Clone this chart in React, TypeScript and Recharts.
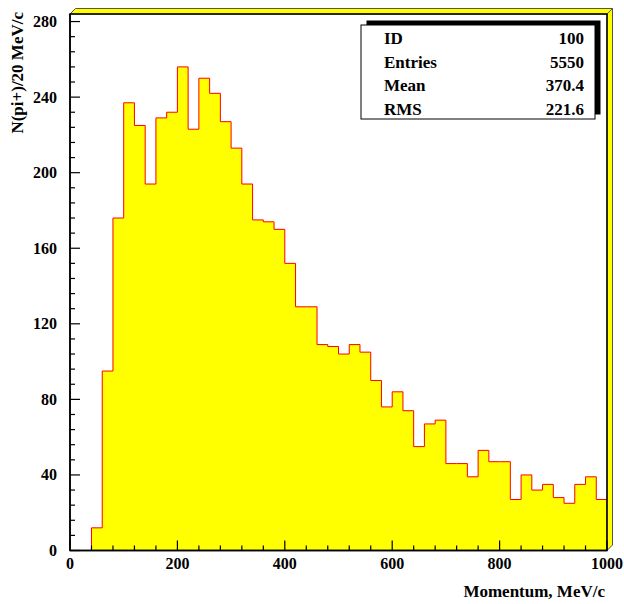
import React from 'react';
import { AreaChart, Area, XAxis, YAxis, ReferenceArea } from 'recharts';

// ---- Data ----
const BIN_WIDTH = 20;
const binLowEdges = [
  0, 20, 40, 60, 80, 100, 120, 140, 160, 180,
  200, 220, 240, 260, 280, 300, 320, 340, 360, 380,
  400, 420, 440, 460, 480, 500, 520, 540, 560, 580,
  600, 620, 640, 660, 680, 700, 720, 740, 760, 780,
  800, 820, 840, 860, 880, 900, 920, 940, 960, 980,
];
const counts = [
  0, 0, 12, 95, 176, 237, 225, 194, 229, 232,
  256, 223, 250, 242, 227, 213, 194, 175, 174, 170,
  152, 129, 129, 109, 108, 104, 109, 105, 90, 76,
  84, 74, 55, 67, 69, 46, 46, 39, 53, 47,
  47, 27, 40, 32, 35, 28, 25, 35, 39, 27,
];
const xMajorLabels = [0, 200, 400, 600, 800, 1000];
const yMajorLabels = [0, 40, 80, 120, 160, 200, 240, 280];
const statLabels = ['ID', 'Entries', 'Mean', 'RMS'];
const statValues = ['100', '5550', '370.4', '221.6'];
const xTitle = 'Momentum, MeV/c';
const yTitle = 'N(pi+)/20 MeV/c';

const X_MAX = 1000;
const Y_MAX = 284;
const xTicks: number[] = [];
for (let v = 0; v <= X_MAX; v += 40) xTicks.push(v);
const yTicks: number[] = [];
for (let v = 0; v <= 280; v += 8) yTicks.push(v);

// step outline data built from bins
const first = counts.findIndex((c) => c > 0);
const last = counts.length - 1;
const stepData: { x: number; y: number }[] = [{ x: binLowEdges[first], y: 0 }];
for (let i = first; i <= last; i++) stepData.push({ x: binLowEdges[i], y: counts[i] });
stepData.push({ x: binLowEdges[last] + BIN_WIDTH, y: counts[last] });
stepData.push({ x: binLowEdges[last] + BIN_WIDTH, y: 0 });

const FONT = '"Liberation Serif", "Times New Roman", serif';

const XTickLabel = (props: any) => {
  const { x, y, payload } = props;
  const v = payload.value;
  if (!xMajorLabels.includes(v)) return <g />;
  return (
    <text x={x} y={y + 18} textAnchor="middle" fontFamily={FONT} fontWeight="bold" fontSize={16} fill="#000">
      {v}
    </text>
  );
};

const YTickLabel = (props: any) => {
  const { x, y, payload } = props;
  const v = payload.value;
  if (!yMajorLabels.includes(v)) return <g />;
  return (
    <text x={x - 13} y={y + 5.5} textAnchor="end" fontFamily={FONT} fontWeight="bold" fontSize={16} fill="#000">
      {v}
    </text>
  );
};

// Frame, tick marks, stats box and titles drawn around the plot area supplied by ReferenceArea
const Frame = (props: any) => {
  const x = Number(props.x);
  const y = Number(props.y);
  const width = Number(props.width);
  const height = Number(props.height);
  const d = 5.5;
  const r = x + width;
  const b = y + height;
  const bx = r - 246;
  const by = y + 11;
  const bw = 234;
  const bh = 94;
  const px = (v: number) => x + (width * v) / X_MAX;
  const py = (v: number) => b - (height * v) / Y_MAX;
  return (
    <g>
      <polygon
        points={`${x},${y} ${x + d},${y - d} ${r + d},${y - d} ${r},${y}`}
        fill="#ffff00"
        stroke="#555"
        strokeWidth={1}
      />
      <polygon
        points={`${r},${y} ${r + d},${y - d} ${r + d},${b - d} ${r},${b}`}
        fill="#ffff00"
        stroke="#555"
        strokeWidth={1}
      />
      {xTicks.map((v) => (
        <line
          key={`xt${v}`}
          x1={px(v)}
          x2={px(v)}
          y1={b}
          y2={b - (xMajorLabels.includes(v) ? 10 : 5)}
          stroke="#000"
          strokeWidth={1.2}
        />
      ))}
      {yTicks.map((v) => (
        <line
          key={`yt${v}`}
          x1={x}
          x2={x + (yMajorLabels.includes(v) ? 10 : 5)}
          y1={py(v)}
          y2={py(v)}
          stroke="#000"
          strokeWidth={1.2}
        />
      ))}
      <rect x={x} y={y} width={width} height={height} fill="none" stroke="#000" strokeWidth={1.5} />
      {/* stats box */}
      <rect x={bx + 5.5} y={by - 4.5} width={bw} height={bh} fill="#000" />
      <rect x={bx} y={by} width={bw} height={bh} fill="#fff" stroke="#000" strokeWidth={1} />
      {statLabels.map((s, i) => (
        <text key={s} x={bx + 23} y={by + 19 + i * 23.5} fontFamily={FONT} fontWeight="bold" fontSize={17} fill="#000">
          {s}
        </text>
      ))}
      {statValues.map((s, i) => (
        <text key={s} x={bx + 223} y={by + 19 + i * 23.5} textAnchor="end" fontFamily={FONT} fontWeight="bold" fontSize={17} fill="#000">
          {s}
        </text>
      ))}
      {/* axis titles */}
      <text x={r - 2} y={b + 46} textAnchor="end" fontFamily={FONT} fontWeight="bold" fontSize={17} fill="#000">
        {xTitle}
      </text>
      <text
        x={23}
        y={12}
        transform={`rotate(-90 23 12)`}
        textAnchor="end"
        fontFamily={FONT}
        fontWeight="bold"
        fontSize={17}
        fill="#000"
      >
        {yTitle}
      </text>
    </g>
  );
};

export default function App() {
  return (
    <div style={{ position: 'absolute', left: 0, top: 0, width: 624, height: 604, background: '#fff' }}>
      <AreaChart width={624} height={604} data={stepData} margin={{ top: 14, right: 17, bottom: 0, left: 0 }}>
        <XAxis
          type="number"
          dataKey="x"
          domain={[0, X_MAX]}
          ticks={xTicks}
          interval={0}
          allowDataOverflow
          height={53.5}
          tickLine={false}
          tickSize={0}
          tickMargin={0}
          tick={<XTickLabel />}
          axisLine={{ stroke: '#000', strokeWidth: 1.5 }}
        />
        <YAxis
          type="number"
          domain={[0, Y_MAX]}
          ticks={yTicks}
          interval={0}
          allowDataOverflow
          width={70}
          tickLine={false}
          tickSize={0}
          tickMargin={0}
          tick={<YTickLabel />}
          axisLine={{ stroke: '#000', strokeWidth: 1.5 }}
        />
        <Area
          type="stepAfter"
          dataKey="y"
          stroke="#ff0000"
          strokeWidth={1}
          fill="#ffff00"
          fillOpacity={1}
          dot={false}
          activeDot={false}
          isAnimationActive={false}
        />
        <ReferenceArea x1={0} x2={X_MAX} y1={0} y2={Y_MAX} ifOverflow="visible" shape={<Frame />} />
      </AreaChart>
    </div>
  );
}
